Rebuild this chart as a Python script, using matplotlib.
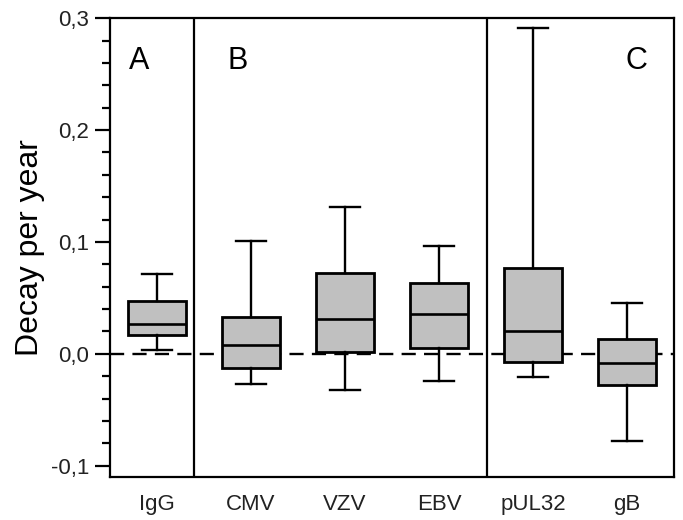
import matplotlib.pyplot as plt
from matplotlib.ticker import MultipleLocator, FuncFormatter

# box plot statistics
labels = ['IgG', 'CMV', 'VZV', 'EBV', 'pUL32', 'gB']
whislo = [0.003, -0.027, -0.032, -0.024, -0.021, -0.078]
q1 = [0.017, -0.013, 0.002, 0.005, -0.007, -0.028]
med = [0.027, 0.008, 0.031, 0.036, 0.020, -0.008]
q3 = [0.047, 0.033, 0.072, 0.063, 0.077, 0.013]
whishi = [0.071, 0.101, 0.131, 0.096, 0.291, 0.045]

group_names = ['A', 'B', 'C']
group_x = [0.81, 1.86, 6.1]
separators = [1.39, 4.51]

plt.rcParams['font.family'] = ['Liberation Sans', 'DejaVu Sans']

stats = []
for i in range(len(labels)):
    stats.append({'label': labels[i], 'whislo': whislo[i], 'q1': q1[i], 'med': med[i],
                  'q3': q3[i], 'whishi': whishi[i], 'fliers': []})

fig = plt.figure(figsize=(6.83, 5.2), dpi=100)
ax = fig.add_axes([0.161, 0.083, 0.826, 0.882])

ax.axhline(0, color='black', lw=1.7, ls=(0, (6, 3.5)), zorder=1)

ax.bxp(stats, positions=range(1, 7), widths=0.62, patch_artist=True, showfliers=False,
       boxprops=dict(facecolor='#c0c0c0', edgecolor='black', lw=2.0),
       medianprops=dict(color='black', lw=1.9),
       whiskerprops=dict(color='black', lw=1.7),
       capprops=dict(color='black', lw=1.7), capwidths=0.32, zorder=3)

for s in separators:
    ax.axvline(s, color='black', lw=1.6, zorder=2)

for name, gx in zip(group_names, group_x):
    ax.text(gx, 0.262, name, fontsize=22, ha='center', va='center')

ax.set_xlim(0.5, 6.5)
ax.set_ylim(-0.11, 0.3)
ax.yaxis.set_major_locator(MultipleLocator(0.1))
ax.yaxis.set_minor_locator(MultipleLocator(0.02))
ax.yaxis.set_major_formatter(FuncFormatter(lambda v, p: f'{v:.1f}'.replace('.', ',').replace('-0,0', '0,0')))
ax.tick_params(axis='y', which='major', length=11, width=1.6, labelsize=16, pad=4, labelcolor='#222222')
ax.tick_params(axis='y', which='minor', length=6, width=1.6)
ax.tick_params(axis='x', length=0, labelsize=16, pad=12, labelcolor='#222222')
ax.set_xticks(range(1, 7))
ax.set_xticklabels(labels)
for sp in ax.spines.values():
    sp.set_linewidth(1.6)

ax.set_ylabel('Decay per year', fontsize=23, labelpad=4)

fig.savefig('out.png', dpi=100)
